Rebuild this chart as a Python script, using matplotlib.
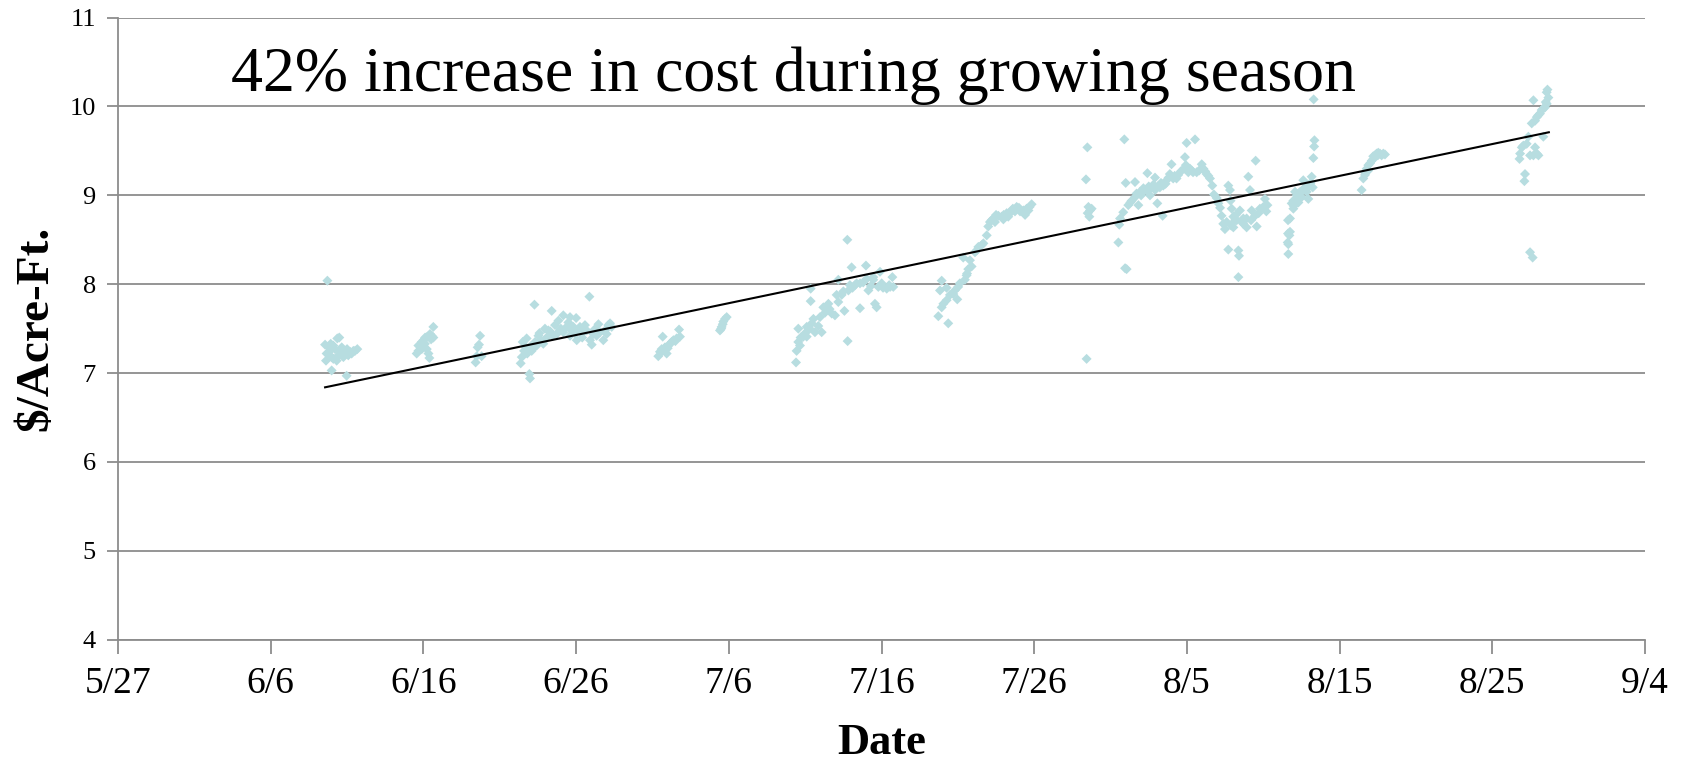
import matplotlib
matplotlib.use("Agg")
import matplotlib.pyplot as plt

# days after 5/27, cost in $/acre-ft
jun09 = [(13.71, 8.04), (13.56, 7.32), (13.93, 7.33), (14.36, 7.39), (14.49, 7.40),
         (13.62, 7.14), (13.66, 7.22), (13.88, 7.25), (13.99, 7.18), (13.99, 7.03),
         (14.10, 7.16), (14.21, 7.27), (14.32, 7.14), (14.43, 7.20), (14.54, 7.25),
         (14.65, 7.29), (14.76, 7.18), (14.87, 7.22), (14.97, 6.97), (15.08, 7.20),
         (15.19, 7.24), (15.30, 7.22), (15.41, 7.25), (15.52, 7.25), (15.67, 7.27),
         (13.84, 7.29), (14.76, 7.25), (14.10, 7.31), (14.60, 7.22), (15.00, 7.27)]
jun15 = [(19.56, 7.22), (19.67, 7.25), (19.78, 7.31), (19.89, 7.35), (20.00, 7.37),
         (20.11, 7.40), (20.26, 7.41), (20.43, 7.44), (20.54, 7.42), (20.65, 7.52),
         (20.65, 7.40), (20.39, 7.17), (20.33, 7.22), (20.22, 7.27), (19.89, 7.27),
         (19.67, 7.31), (20.50, 7.38), (20.10, 7.33)]
jun19 = [(23.42, 7.12), (23.49, 7.19), (23.55, 7.29), (23.71, 7.42), (23.64, 7.32),
         (23.81, 7.19)]
jun22 = [(26.37, 7.11), (26.44, 7.18), (26.50, 7.35), (26.59, 7.25), (26.72, 7.29),
         (26.76, 7.39), (26.94, 6.99), (26.98, 6.94), (27.09, 7.25), (27.27, 7.77),
         (27.20, 7.29), (27.31, 7.35), (27.42, 7.31), (27.53, 7.42), (27.64, 7.37),
         (27.85, 7.33), (27.96, 7.50), (28.07, 7.40), (28.18, 7.48), (28.40, 7.70),
         (28.46, 7.42), (28.62, 7.54), (28.73, 7.44), (28.84, 7.59), (28.94, 7.48),
         (29.16, 7.65), (29.16, 7.46), (29.38, 7.52), (29.49, 7.57), (29.60, 7.42),
         (29.71, 7.48), (29.82, 7.52), (30.04, 7.37), (30.14, 7.48), (30.25, 7.52),
         (30.47, 7.46), (30.58, 7.54), (30.69, 7.48), (30.87, 7.86), (30.91, 7.37),
         (31.02, 7.32), (31.13, 7.44), (31.34, 7.42), (31.46, 7.55), (31.56, 7.46),
         (31.78, 7.37), (31.89, 7.48), (32.00, 7.44), (32.11, 7.54), (32.22, 7.56),
         (32.33, 7.52), (26.80, 7.22), (27.00, 7.30), (27.60, 7.45), (28.30, 7.47),
         (29.00, 7.50), (29.90, 7.45), (30.40, 7.40), (31.20, 7.49), (30.00, 7.62),
         (29.60, 7.63)]
jul01 = [(35.38, 7.19), (35.49, 7.24), (35.60, 7.27), (35.67, 7.41), (35.82, 7.29),
         (35.93, 7.22), (36.04, 7.31), (36.15, 7.33), (36.26, 7.35), (36.37, 7.37),
         (36.58, 7.39), (36.74, 7.49), (36.80, 7.41), (35.60, 7.24), (36.00, 7.28),
         (36.50, 7.36)]
jul05 = [(39.42, 7.48), (39.53, 7.52), (39.60, 7.55), (39.64, 7.58), (39.75, 7.61),
         (39.86, 7.63), (39.50, 7.50)]
jul10 = [(44.40, 7.12), (44.44, 7.25), (44.55, 7.35), (44.55, 7.50), (44.88, 7.41),
         (45.10, 7.52), (45.43, 7.56), (45.64, 7.46), (46.08, 7.46), (45.97, 7.63),
         (46.19, 7.74), (46.52, 7.78), (46.74, 7.67), (46.95, 7.65), (47.17, 7.80),
         (47.39, 7.88), (47.57, 7.70), (47.76, 8.50), (47.78, 7.36), (47.17, 8.05),
         (48.04, 8.19), (47.83, 7.93), (48.26, 7.99), (48.59, 7.73), (48.59, 8.01),
         (48.98, 8.21), (49.14, 7.93), (49.46, 8.08), (49.57, 7.78), (49.68, 7.74),
         (49.90, 8.14), (50.01, 8.01), (50.34, 7.95), (50.56, 7.97), (50.77, 7.97),
         (50.71, 8.08), (45.36, 7.95), (45.36, 7.81), (45.54, 7.61), (44.66, 7.31),
         (45.10, 7.41), (45.86, 7.53), (46.41, 7.74), (47.06, 7.88), (47.93, 7.99),
         (48.37, 8.01), (49.03, 8.06), (49.46, 8.05), (49.79, 7.97), (44.70, 7.40),
         (45.00, 7.45), (45.30, 7.50), (46.30, 7.68), (46.60, 7.72), (47.50, 7.92),
         (48.10, 7.96), (48.80, 8.02), (49.30, 7.98), (50.10, 7.96), (50.50, 7.99)]
jul19 = [(53.72, 7.64), (54.37, 7.56), (53.94, 8.04), (53.83, 7.93), (54.26, 7.96),
         (53.94, 7.74), (54.26, 7.82), (54.48, 7.88), (54.80, 7.93), (54.96, 7.83),
         (55.13, 8.01), (55.46, 8.05), (55.68, 8.17), (55.79, 8.27), (55.35, 8.30),
         (56.12, 8.36), (56.34, 8.42), (56.67, 8.46), (56.89, 8.55), (57.10, 8.70),
         (57.32, 8.74), (57.65, 8.77), (57.98, 8.73), (58.20, 8.80), (58.52, 8.83),
         (58.85, 8.87), (59.07, 8.82), (59.40, 8.78), (59.62, 8.83), (59.83, 8.90),
         (54.05, 7.78), (54.70, 7.89), (55.02, 7.97), (55.57, 8.10), (56.23, 8.38),
         (56.56, 8.44), (56.99, 8.65), (57.43, 8.70), (57.87, 8.76), (58.42, 8.80),
         (58.74, 8.82), (59.29, 8.83), (57.20, 8.72), (57.50, 8.78), (58.00, 8.78),
         (58.30, 8.76), (58.60, 8.85), (59.00, 8.86), (59.50, 8.85), (59.70, 8.87),
         (55.90, 8.20), (55.60, 8.12)]
jul30 = [(63.48, 9.54), (63.39, 9.18), (63.55, 8.87), (63.65, 8.83), (63.61, 8.76),
         (63.76, 8.85), (63.43, 7.16), (63.50, 8.80)]
aug01 = [(65.51, 8.47), (65.57, 8.67), (65.62, 8.74), (65.83, 8.81), (65.90, 9.63),
         (65.99, 9.14), (65.95, 8.18), (66.05, 8.17), (66.16, 8.89), (66.38, 8.94),
         (66.60, 8.98), (66.60, 9.15), (66.82, 8.89), (66.93, 9.04), (67.15, 9.08),
         (67.36, 9.06), (67.41, 9.25), (67.58, 9.00), (67.69, 9.09), (67.91, 9.20),
         (67.91, 9.06), (68.06, 8.91), (68.23, 9.09), (68.41, 8.77), (68.45, 9.11),
         (68.67, 9.17), (68.88, 9.24), (68.99, 9.35), (69.10, 9.19), (69.32, 9.19),
         (69.43, 9.23), (69.87, 9.43), (69.98, 9.59), (69.93, 9.34), (70.09, 9.26),
         (70.31, 9.28), (70.53, 9.63), (70.64, 9.26), (70.97, 9.35), (71.08, 9.30),
         (71.29, 9.24), (71.51, 9.19), (71.66, 9.11), (71.77, 9.01), (71.95, 8.97),
         (72.06, 8.91), (72.17, 8.86), (72.27, 8.77), (72.38, 8.68), (72.49, 8.62),
         (72.71, 8.39), (72.71, 9.11), (72.82, 9.06), (72.86, 8.94), (72.93, 8.85),
         (73.04, 8.76), (73.15, 8.72), (73.37, 8.38), (73.41, 8.32), (73.37, 8.08),
         (73.47, 8.83), (73.69, 8.68), (73.91, 8.74), (74.02, 9.21), (74.13, 9.06),
         (74.24, 8.83), (74.46, 8.77), (74.50, 9.39), (74.57, 8.65), (74.78, 8.85),
         (75.00, 8.87), (75.11, 8.96), (75.27, 8.89), (73.91, 8.64), (73.04, 8.64),
         (73.69, 8.74), (73.26, 8.72), (66.30, 8.92), (66.70, 9.02), (67.00, 9.00),
         (67.20, 9.05), (67.50, 9.10), (67.80, 9.12), (68.10, 9.10), (68.30, 9.14),
         (68.60, 9.13), (68.80, 9.20), (69.20, 9.22), (69.60, 9.27), (69.80, 9.30),
         (70.20, 9.30), (70.40, 9.26), (70.80, 9.28), (71.20, 9.27), (71.40, 9.22),
         (72.60, 8.70), (72.90, 8.66), (73.20, 8.78), (73.60, 8.70), (74.20, 8.72),
         (74.70, 8.80), (75.20, 8.82)]
aug12 = [(76.64, 8.34), (76.64, 8.45), (76.71, 8.55), (76.75, 8.59), (76.75, 8.74),
         (76.86, 8.91), (76.97, 8.85), (76.97, 8.94), (77.08, 9.04), (77.19, 9.00),
         (77.30, 8.92), (77.41, 9.04), (77.51, 8.98), (77.62, 9.17), (77.73, 9.09),
         (77.84, 9.04), (77.95, 8.96), (78.06, 9.11), (78.17, 9.21), (78.24, 9.09),
         (78.28, 9.42), (78.33, 9.55), (78.35, 9.62), (78.30, 10.08), (76.62, 8.72),
         (76.62, 8.57), (76.60, 8.47), (77.00, 8.88), (77.30, 9.02), (77.60, 9.06),
         (77.90, 9.10), (78.10, 9.14)]
aug17 = [(81.44, 9.06), (81.55, 9.19), (81.66, 9.23), (81.77, 9.30), (81.88, 9.34),
         (81.99, 9.36), (82.10, 9.39), (82.21, 9.41), (82.32, 9.45), (82.42, 9.47),
         (82.53, 9.48), (82.64, 9.47), (82.75, 9.45), (82.86, 9.47), (82.97, 9.46),
         (81.66, 9.26), (81.88, 9.28), (82.20, 9.44), (82.50, 9.45)]
aug27 = [(92.47, 8.36), (92.64, 8.30), (92.14, 9.24), (92.10, 9.16), (91.78, 9.41),
         (91.82, 9.47), (91.93, 9.54), (92.03, 9.56), (92.25, 9.58), (92.36, 9.66),
         (92.58, 9.81), (92.80, 9.84), (92.91, 9.88), (93.12, 9.92), (93.23, 9.96),
         (93.45, 9.99), (93.56, 10.03), (93.67, 10.10), (93.56, 10.16), (93.61, 10.19),
         (92.69, 10.07), (92.69, 9.45), (92.91, 9.47), (92.80, 9.54), (93.34, 9.66),
         (93.02, 9.45), (92.47, 9.45), (93.00, 9.90), (93.30, 9.97), (93.50, 10.05)]

trend_days = [13.56, 93.70]
trend_cost = [6.84, 9.71]

tick_days = [0, 10, 20, 30, 40, 50, 60, 70, 80, 90, 100]
tick_labels = ["5/27", "6/6", "6/16", "6/26", "7/6", "7/16", "7/26", "8/5", "8/15", "8/25", "9/4"]


def main() -> None:
    plt.rcParams["font.family"] = ["Liberation Serif", "DejaVu Serif"]
    grey = "#8c8c8c"

    pts = jun09 + jun15 + jun19 + jun22 + jul01 + jul05 + jul10 + jul19 + jul30 + aug01 + aug12 + aug17 + aug27
    days = [d for d, _ in pts]
    cost = [c for _, c in pts]

    fig = plt.figure(figsize=(16.86, 7.6), dpi=100)
    ax = fig.add_axes([0.070, 0.1583, 0.9057, 0.8185])

    ax.scatter(days, cost, marker="D", s=26, color="#b7dde0", edgecolors="none", zorder=3)
    ax.plot(trend_days, trend_cost, color="black", lw=1.5, zorder=4)

    ax.set_xlim(0, 100)
    ax.set_ylim(4, 11)
    ax.set_xticks(tick_days)
    ax.set_xticklabels(tick_labels, fontsize=27)
    ax.set_yticks(range(4, 12))
    ax.tick_params(axis="y", labelsize=19, length=8, width=1.3, color=grey, pad=8)
    ax.tick_params(axis="x", length=10, width=1.3, color=grey, pad=9)
    ax.grid(axis="y", color=grey, lw=1.3)
    ax.set_axisbelow(True)
    for side in ("top", "right"):
        ax.spines[side].set_visible(False)
    for side in ("left", "bottom"):
        ax.spines[side].set_color(grey)
        ax.spines[side].set_linewidth(1.3)

    ax.set_xlabel("Date", fontsize=32, fontweight="bold")
    ax.xaxis.set_label_coords(0.5, -0.134)
    ax.set_ylabel("$/Acre-Ft.", fontsize=34, fontweight="bold")
    ax.yaxis.set_label_coords(-0.040, 0.5)

    fig.text(0.137, 0.880, "42% increase in cost during growing season",
             fontsize=46, va="baseline", ha="left")

    fig.savefig("out.png", dpi=100)


if __name__ == "__main__":
    main()
